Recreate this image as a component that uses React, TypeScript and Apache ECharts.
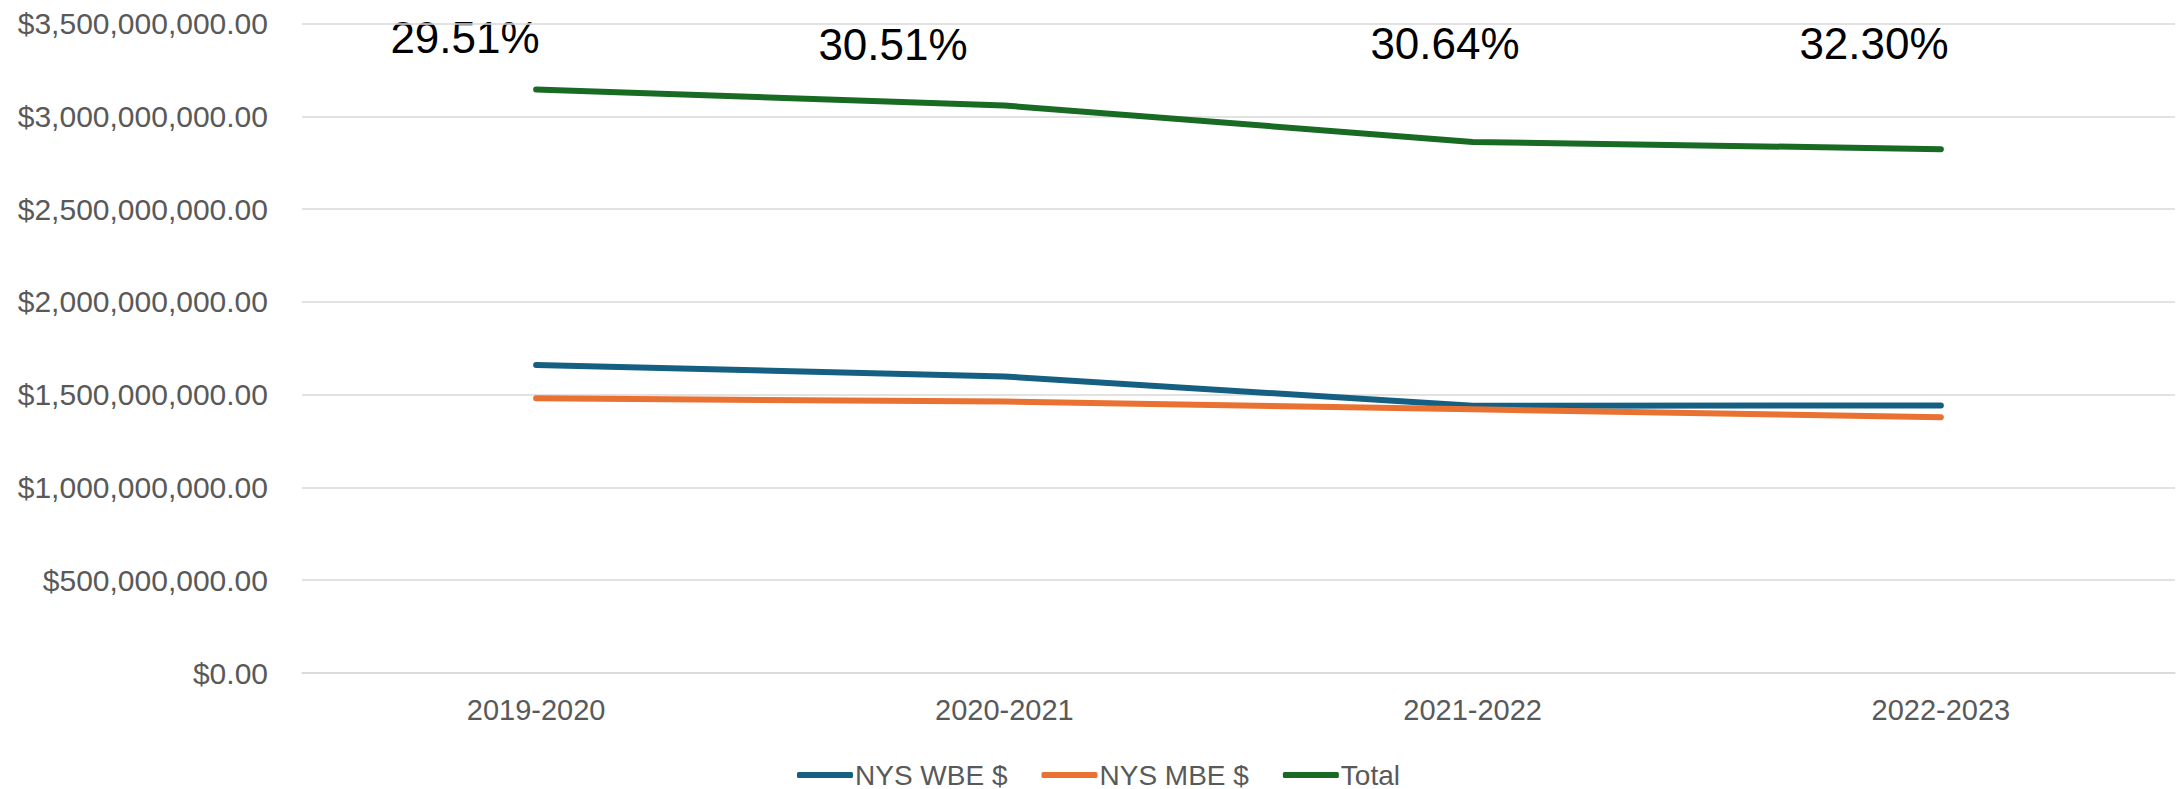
import React, { useEffect, useRef } from "react";
import * as echarts from "echarts";

const categories = ["2019-2020", "2020-2021", "2021-2022", "2022-2023"];
const wbeValues = [1660000000, 1598000000, 1440000000, 1442000000];
const mbeValues = [1480000000, 1463000000, 1421000000, 1378000000];
const totalValues = [3145000000, 3058000000, 2862000000, 2823000000];
const percentLabels = ["29.51%", "30.51%", "30.64%", "32.30%"];
const percentPos = [
  [465, 37],
  [893, 44],
  [1445, 43],
  [1874, 43],
];

const FONT = "'Liberation Sans', Arial, sans-serif";

export default function App() {
  const ref = useRef<HTMLDivElement>(null);
  useEffect(() => {
    if (!ref.current) return;
    const chart = echarts.init(ref.current, undefined, { renderer: "svg" });
    const fmt = (v: number) =>
      "$" + v.toLocaleString("en-US", { minimumFractionDigits: 2, maximumFractionDigits: 2 });
    const mk = (name: string, data: number[], color: string) => ({
      name,
      type: "line",
      data,
      symbol: "none",
      smooth: false,
      lineStyle: { color, width: 6, cap: "round", join: "round" },
      itemStyle: { color },
    });
    chart.setOption({
      animation: false,
      backgroundColor: "#ffffff",
      textStyle: { fontFamily: FONT },
      grid: { left: 302, right: 3, top: 23.5, bottom: 116, containLabel: false },
      xAxis: {
        type: "category",
        data: categories,
        boundaryGap: true,
        axisLine: { show: true, lineStyle: { color: "#D9D9D9", width: 1.5 } },
        axisTick: { show: false },
        axisLabel: { color: "#595959", fontSize: 29, fontFamily: FONT, margin: 22 },
      },
      yAxis: {
        type: "value",
        min: 0,
        max: 3500000000,
        interval: 500000000,
        axisLine: { show: false },
        axisTick: { show: false },
        splitLine: { lineStyle: { color: "#D9D9D9", width: 1.5 } },
        axisLabel: {
          color: "#595959",
          fontSize: 30,
          fontFamily: FONT,
          margin: 34,
          formatter: (v: number) => fmt(v),
        },
      },
      legend: {
        top: 761,
        left: 797,
        padding: 0,
        itemWidth: 56,
        itemHeight: 6,
        itemGap: 34,
        icon: "roundRect",
        textStyle: { color: "#595959", fontSize: 28, fontFamily: FONT, padding: [0, 0, 0, -3] },
        data: ["NYS WBE $", "NYS MBE $", "Total"],
      },
      series: [
        mk("NYS WBE $", wbeValues, "#156082"),
        mk("NYS MBE $", mbeValues, "#E97132"),
        mk("Total", totalValues, "#196B24"),
      ],
      graphic: percentLabels.map((t, i) => ({
        type: "text",
        x: percentPos[i][0],
        y: percentPos[i][1],
        style: {
          text: t,
          fill: "#000000",
          font: `44px ${FONT}`,
          textAlign: "center",
          textVerticalAlign: "middle",
        },
      })),
    });
    return () => chart.dispose();
  }, []);
  return (
    <div
      ref={ref}
      style={{ position: "fixed", left: 0, top: 0, width: 2178, height: 789 }}
    />
  );
}
